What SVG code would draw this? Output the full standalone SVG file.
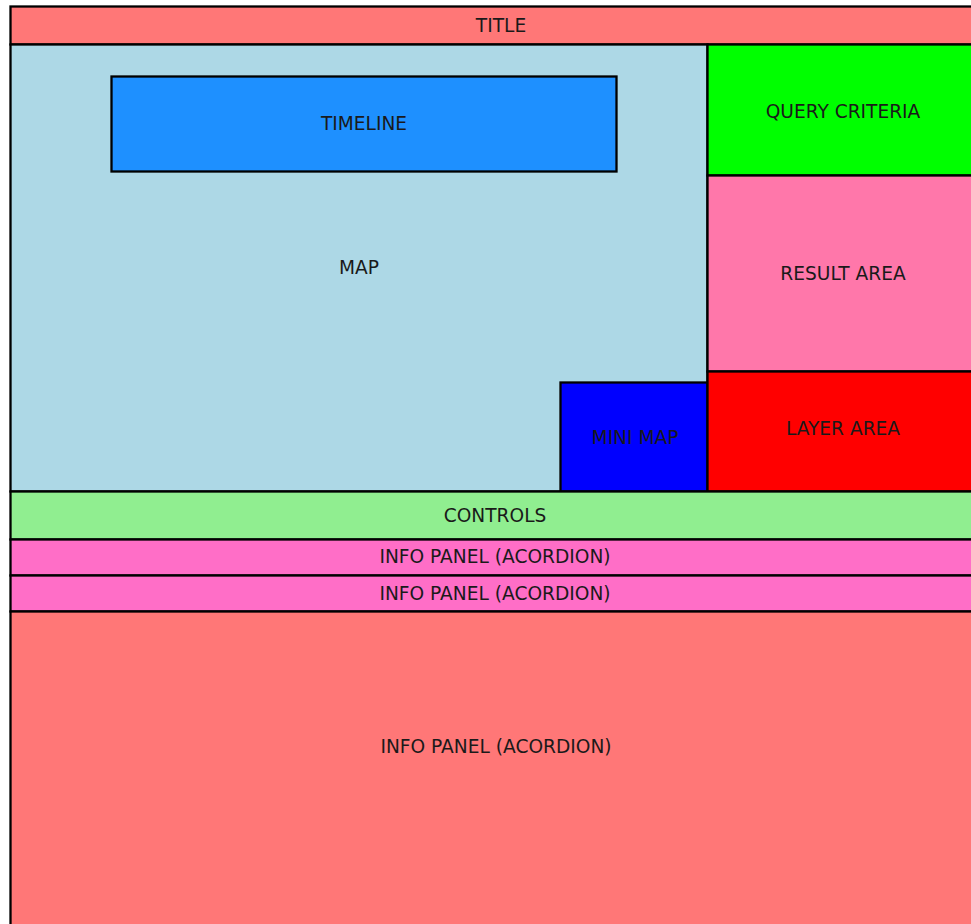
<svg xmlns="http://www.w3.org/2000/svg" width="971" height="924" viewBox="0 0 971 924">
<style>
.b{stroke:#000;stroke-width:2.3}
text{font-family:"DejaVu Sans",sans-serif;font-size:18.6px;fill:#1a1a1a;text-anchor:middle;dominant-baseline:central}
</style>
<rect x="0" y="0" width="971" height="924" fill="#fff"/>
<g id="title"><rect class="b" x="10.5" y="6.5" width="970" height="38" fill="#ff7777"/><text x="501" y="25">TITLE</text></g>
<g id="map"><rect class="b" x="10.5" y="44.5" width="697" height="447" fill="#add8e6"/><text x="359" y="267">MAP</text></g>
<g id="timeline"><rect class="b" x="111.5" y="76.5" width="505" height="95" fill="#1e90ff"/><text x="364" y="123">TIMELINE</text></g>
<g id="minimap"><rect class="b" x="560.5" y="382.5" width="147" height="109" fill="#0000ff"/><text x="635" y="437">MINI MAP</text></g>
<g id="query"><rect class="b" x="707.5" y="44.5" width="270" height="131" fill="#00ff00"/><text x="843" y="111">QUERY CRITERIA</text></g>
<g id="result"><rect class="b" x="707.5" y="175.5" width="270" height="196" fill="#ff77aa"/><text x="843" y="273">RESULT AREA</text></g>
<g id="layer"><rect class="b" x="707.5" y="371.5" width="270" height="120" fill="#ff0000"/><text x="843" y="428">LAYER AREA</text></g>
<g id="controls"><rect class="b" x="10.5" y="491.5" width="970" height="48" fill="#90ee90"/><text x="495" y="515">CONTROLS</text></g>
<g id="info1"><rect class="b" x="10.5" y="539.5" width="970" height="36" fill="#ff6ec7"/><text x="495" y="556">INFO PANEL (ACORDION)</text></g>
<g id="info2"><rect class="b" x="10.5" y="575.5" width="970" height="36" fill="#ff6ec7"/><text x="495" y="593">INFO PANEL (ACORDION)</text></g>
<g id="info3"><rect class="b" x="10.5" y="611.5" width="970" height="330" fill="#ff7777"/><text x="496" y="746">INFO PANEL (ACORDION)</text></g>
<g id="connectors"></g>
</svg>
